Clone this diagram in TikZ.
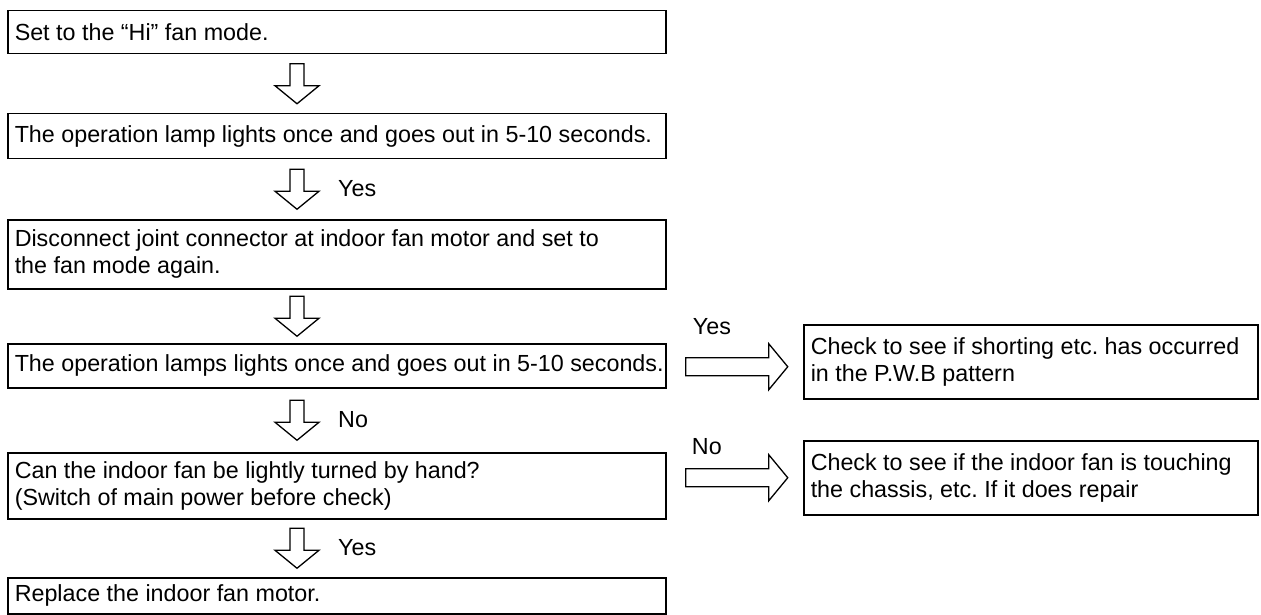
\documentclass[tikz,border=0pt]{standalone}
\usepackage{fontspec}
\setmainfont{Liberation Sans}
\usetikzlibrary{calc}
\frenchspacing
\begin{document}
\begin{tikzpicture}[x=1pt,y=-1pt,
  txt/.style={font=\fontsize{23.3}{27}\selectfont},
  box/.style={txt, draw, line width=1.5pt, anchor=north west, inner xsep=7pt, inner ysep=0pt,
    align=flush left, text width=644pt},
  rbox/.style={box, text width=440pt},
  arrline/.style={draw, line width=1.3pt, line join=miter, fill=white},
  pics/dnarrow/.style={code={\draw[arrline] (-7,-20) -- (-7,2) -- (-22,2) -- (0,20) -- (22,2) -- (7,2) -- (7,-20) -- cycle;}},
  pics/rtarrow/.style={code={\draw[arrline] (-51,-9) -- (32,-9) -- (32,-23) -- (51,0) -- (32,23) -- (32,9) -- (-51,9) -- cycle;}},
  lbl/.style={txt, inner sep=0pt, anchor=base west}]
\useasboundingbox (0,0) rectangle (1261,615);

\node[box, minimum height=43pt] (b1) at (7,10) {\mbox{Set to the “Hi” fan mode.}};
\node[box, minimum height=45pt] (b2) at (7,113) {\mbox{The operation lamp lights once and goes out in 5-10 seconds.}};
\node[box, minimum height=69pt] (b3) at (7,219) {\mbox{Disconnect joint connector at indoor fan motor and set to}\\\mbox{the fan mode again.}};
\node[box, minimum height=44pt] (b4) at (7,343) {\mbox{The operation lamps lights once and goes out in 5-10 seconds.}};
\node[box, minimum height=66pt] (b5) at (7,452) {\mbox{Can the indoor fan be lightly turned by hand?}\\\mbox{(Switch of main power before check)}};
\node[box, minimum height=36pt] (b6) at (7,577) {\mbox{Replace the indoor fan motor.}};

\node[rbox, minimum height=74pt] (r1) at (803,324) {\mbox{Check to see if shorting etc. has occurred}\\\mbox{in the P.W.B pattern}};
\node[rbox, minimum height=74pt] (r2) at (803,440) {\mbox{Check to see if the indoor fan is touching}\\\mbox{the chassis, etc. If it does repair}};

\coordinate (col) at (297,0);
\path (b1.south -| col) -- (b2.north -| col) coordinate[midway] (d1);
\path (b2.south -| col) -- (b3.north -| col) coordinate[midway] (d2);
\path (b3.south -| col) -- (b4.north -| col) coordinate[midway] (d3);
\path (b4.south -| col) -- (b5.north -| col) coordinate[midway] (d4);
\path (b5.south -| col) -- (b6.north -| col) coordinate[midway] (d5);
\pic at (d1) {dnarrow};
\pic at (d2) {dnarrow};
\pic at (d3) {dnarrow};
\pic at (d4) {dnarrow};
\pic at (d5) {dnarrow};

\path (b4.east) -- (b4.east -| r1.west) coordinate[midway] (h1);
\path (b5.east |- r2.west) -- (r2.west) coordinate[midway] (h2);
\pic at ($(h1)+(2,1)$) {rtarrow};
\pic at ($(h2)+(2,0)$) {rtarrow};

\node[lbl] (l2) at ($(d2)+(41,7)$) {Yes};
\node[lbl] (l4) at ($(d4)+(41,7)$) {No};
\node[lbl] (l5) at ($(d5)+(41,7)$) {Yes};
\node[lbl] (lh1) at ($(h1)+(-42,-31)$) {Yes};
\node[lbl] (lh2) at ($(h2)+(-43,-23)$) {No};
\end{tikzpicture}
\end{document}
